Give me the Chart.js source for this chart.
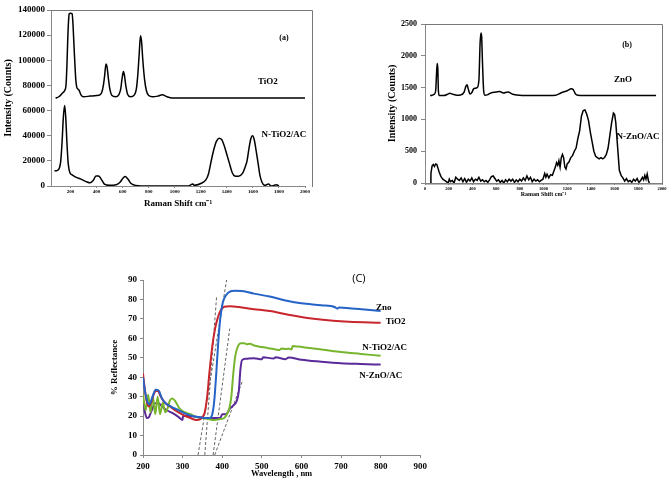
<!DOCTYPE html>
<html>
<head>
<meta charset="utf-8">
<script src="https://cdn.jsdelivr.net/npm/chart.js@4.4.1/dist/chart.umd.min.js"></script>
<style>
  body { margin: 0; background: #fff; width: 669px; height: 480px; position: relative; overflow: hidden; }
  canvas { position: absolute; }
</style>
</head>
<body>
<canvas id="chartA" width="330" height="212" style="left:0;top:0"></canvas>
<canvas id="chartB" width="339" height="200" style="left:330px;top:0"></canvas>
<canvas id="chartC" width="330" height="250" style="left:100px;top:230px"></canvas>
<script>
// (a) Raman TiO2 and N-TiO2/AC  [shift, intensity]
const tio2Raman = [[85,70000],[110,71000],[136,73700],[155,76000],[165,80000],[172,95000],[178,115000],[184,130000],[190,137000],[200,137500],[212,137000],[218,130000],[225,115000],[232,100000],[240,85000],[248,78500],[258,77000],[266,76000],[280,72500],[300,71000],[350,71500],[400,72000],[425,72500],[440,74500],[452,80000],[462,88000],[472,97000],[480,95000],[490,86000],[502,77000],[518,72000],[545,71000],[570,72500],[585,77000],[595,85000],[606,91000],[614,88000],[624,80000],[638,73000],[660,71000],[690,72500],[705,77000],[716,88000],[727,105000],[737,119500],[745,115000],[755,100000],[768,85000],[782,76000],[800,72000],[830,71000],[870,71500],[905,72500],[940,71000],[980,70000],[2000,70000]];
const ntio2Raman = [[77,12000],[100,12500],[115,14500],[125,20000],[135,35000],[145,55000],[155,64000],[163,55000],[172,35000],[182,18000],[195,10500],[210,9000],[240,7000],[280,5500],[320,3500],[350,2500],[375,4500],[395,8000],[415,8000],[435,5500],[460,1500],[500,500],[550,1000],[580,3000],[605,6500],[620,7500],[640,5500],[665,2000],[700,500],[800,0],[1100,0],[1140,1500],[1150,500],[1200,2000],[1240,5000],[1260,10000],[1280,20000],[1300,29000],[1320,35500],[1340,38000],[1360,37000],[1380,32000],[1400,25000],[1420,18000],[1440,11000],[1460,8000],[1490,7800],[1520,10000],[1540,15000],[1555,20000],[1570,30000],[1585,38000],[1597,40000],[1610,37000],[1625,28000],[1640,18000],[1655,8000],[1670,3000],[1690,500],[1720,1500],[1740,0],[1780,1000],[1800,0]];
const ticksA = [200,400,600,800,1000,1200,1400,1600,1800,2000];

// (b) Raman ZnO and N-ZnO/AC
const znoRaman = [[43,1375],[60,1380],[80,1400],[90,1450],[97,1700],[103,1880],[108,1800],[113,1450],[120,1375],[160,1375],[190,1395],[210,1410],[235,1395],[270,1380],[300,1385],[330,1430],[345,1520],[355,1545],[365,1480],[380,1400],[395,1420],[410,1480],[425,1490],[440,1500],[455,1620],[465,2200],[472,2360],[478,2300],[485,1900],[495,1450],[505,1380],[530,1390],[560,1420],[600,1430],[630,1440],[660,1415],[700,1430],[740,1395],[800,1380],[900,1375],[1000,1375],[1100,1380],[1150,1420],[1200,1450],[1235,1480],[1250,1470],[1270,1400],[1290,1380],[1400,1375],[1950,1375]];
const nznoRaman = [[43,0],[50,150],[60,270],[70,290],[80,260],[90,300],[100,290],[110,230],[120,170],[135,100],[150,60],[165,40],[180,20],[195,0],[205,60],[215,20],[230,40],[245,0],[260,90],[275,60],[290,40],[305,80],[320,20],[335,70],[350,10],[365,60],[380,30],[395,80],[410,20],[425,60],[440,40],[455,90],[470,30],[485,50],[500,20],[515,40],[530,10],[545,50],[560,100],[575,110],[590,70],[605,30],[620,50],[635,10],[650,40],[665,0],[680,50],[695,20],[710,60],[725,30],[740,60],[755,10],[770,50],[785,20],[800,60],[815,30],[830,80],[845,40],[860,110],[875,50],[890,90],[905,20],[920,60],[935,30],[950,50],[965,20],[980,40],[995,60],[1010,150],[1020,90],[1030,140],[1045,80],[1060,130],[1075,120],[1090,200],[1100,250],[1110,320],[1120,280],[1130,350],[1140,250],[1150,400],[1160,450],[1170,400],[1180,250],[1190,220],[1200,300],[1215,330],[1230,400],[1245,430],[1260,500],[1275,550],[1290,700],[1305,820],[1320,1050],[1335,1140],[1350,1150],[1365,1080],[1380,980],[1395,800],[1410,650],[1425,500],[1440,420],[1455,400],[1470,380],[1485,400],[1500,380],[1515,400],[1530,450],[1545,550],[1560,750],[1575,950],[1590,1100],[1600,1080],[1610,950],[1620,700],[1630,450],[1640,200],[1655,120],[1670,80],[1685,30],[1700,70],[1715,20],[1730,40],[1745,10],[1760,60],[1775,30],[1790,70],[1805,10],[1820,40],[1835,90],[1845,50],[1855,120],[1865,60],[1875,140],[1885,40],[1893,0]];

// (c) reflectance [wavelength nm, %]
const znoRefl = [[200,40],[205,33],[210,28],[216,26],[224,30],[232,33.5],[240,33],[248,29],[258,26.5],[270,25],[290,23],[310,21],[330,19.8],[350,19.2],[365,19],[372,19.5],[376,22],[380,28],[385,42],[390,58],[395,70],[400,77],[405,80.5],[415,83.5],[430,84.5],[450,84.3],[480,83],[520,81.5],[560,79.5],[600,78],[650,77],[685,76],[690,75.3],[695,75.8],[720,75.5],[760,74.8],[800,74]];
const tio2Refl = [[200,42],[205,33],[210,27],[215,25],[222,28],[230,32.5],[237,33],[245,30],[255,27],[268,25],[285,22.5],[300,20.8],[320,19],[335,18],[345,18.5],[350,19.5],[356,22],[362,30],[368,43],[375,56],[382,65],[388,70],[395,74],[405,76.2],[420,76.5],[450,75.8],[480,75],[520,74],[570,72],[620,70.3],[680,69],[720,68.5],[800,68]];
const ntio2Refl = [[200,31],[207,23],[213,31],[219,22],[225,30],[231,21],[237,30],[243,21],[250,27],[256,22],[262,24],[268,28],[274,29],[282,27.5],[292,24],[305,22],[320,21],[335,19.5],[350,19],[365,18.5],[380,18],[395,18.5],[405,19],[412,21],[418,24],[423,30],[428,42],[433,51],[440,56],[447,57.5],[455,57.5],[462,57],[470,57.2],[480,56.3],[500,55.5],[530,54.5],[545,54],[550,54.8],[560,54.5],[570,54.7],[575,54.3],[578,56],[590,55.8],[620,55],[660,54],[700,53],[750,52],[800,51]];
const nznoRefl = [[200,29],[205,22],[210,19],[215,19.5],[222,23],[230,26.5],[238,26.8],[248,25],[260,23],[275,21.5],[290,19.5],[300,18],[301,20],[320,20],[340,19.5],[360,19],[380,19],[395,19],[400,21],[410,21],[418,23.5],[428,25.5],[436,27.5],[442,33],[446,44],[450,48.8],[460,49.5],[480,49.8],[500,49.2],[503,50.3],[530,49.6],[535,50.3],[560,49.3],[568,50.2],[600,49],[650,48],[700,47.2],[750,46.8],[800,46.5]];
const tangentLines = [
  [[339,0],[414,93.6]],
  [[356,0],[386,82]],
  [[377,0],[419,65]],
  [[381,0],[452,38.6]]
];

const serif = '"Liberation Serif", "Times New Roman", serif';

function pts(arr) {
  return arr.map(p => ({ x: p[0], y: p[1] }));
}

// draws free text at data coordinates
const textLabels = {
  id: 'textLabels',
  afterDraw(chart, args, opts) {
    const ctx = chart.ctx;
    const x = chart.scales.x, y = chart.scales.y;
    ctx.save();
    (opts.items || []).forEach(it => {
      ctx.font = it.font;
      ctx.fillStyle = '#000';
      ctx.textAlign = 'center';
      ctx.textBaseline = 'middle';
      ctx.fillText(it.text, x.getPixelForValue(it.x), y.getPixelForValue(it.y));
    });
    ctx.restore();
  }
};

const frame = {
  id: 'frame',
  afterDraw(chart, args, opts) {
    if (!opts.show) return;
    const ctx = chart.ctx;
    const a = chart.chartArea;
    const r = a.right + (opts.extend || 0);
    ctx.save();
    ctx.strokeStyle = '#777';
    ctx.lineWidth = 1;
    ctx.beginPath();
    ctx.moveTo(a.left, a.top + 0.5);
    ctx.lineTo(r + 0.5, a.top + 0.5);
    ctx.lineTo(r + 0.5, a.bottom + 1);
    if (opts.closed) ctx.lineTo(a.left, a.bottom + 1);
    ctx.stroke();
    ctx.restore();
  }
};

Chart.register(textLabels, frame);
Chart.defaults.animation = false;
Chart.defaults.font.family = serif;
Chart.defaults.color = '#000';

const plain = v => String(v);

function blackLine(data) {
  return { data: pts(data), borderColor: '#000', borderWidth: 1.5, pointRadius: 0, cubicInterpolationMode: 'monotone' };
}

function fixed(size, horizontal) {
  return function (s) { if (horizontal) s.height = size; else s.width = size; };
}

// chart (a)
new Chart(document.getElementById('chartA'), {
  type: 'line',
  data: { datasets: [blackLine(tio2Raman), blackLine(ntio2Raman)] },
  options: {
    responsive: false,
    layout: { padding: { left: 0, top: 10, right: 25, bottom: 0 } },
    plugins: {
      legend: { display: false }, tooltip: { enabled: false },
      frame: { show: true, extend: 7 },
      textLabels: { items: [
        { text: '(a)', x: 1838, y: 117700, font: 'bold 8px ' + serif },
        { text: 'TiO2', x: 1715, y: 82700, font: 'bold 9px ' + serif },
        { text: 'N-TiO2/AC', x: 1838, y: 40600, font: 'bold 9px ' + serif }
      ] }
    },
    scales: {
      x: {
        type: 'linear', min: 50, max: 2000,
        afterBuildTicks: s => { s.ticks = ticksA.map(v => ({ value: v })); },
        afterFit: fixed(26, true),
        ticks: { callback: plain, font: { size: 5, weight: 'bold' }, padding: 1, maxRotation: 0, autoSkip: false },
        grid: { display: true, drawOnChartArea: false, tickLength: 2, color: '#888' },
        border: { color: '#888' },
        title: { display: true, text: 'Raman Shift cm⁻¹', font: { size: 9, weight: 'bold' }, padding: { top: 0, bottom: 3 } }
      },
      y: {
        min: 0, max: 140000,
        afterFit: fixed(51, false),
        ticks: { callback: plain, stepSize: 20000, font: { size: 9, weight: 'bold' }, padding: 2 },
        grid: { display: true, drawOnChartArea: false, tickLength: 4, color: '#888' },
        border: { color: '#888' },
        title: { display: true, text: 'Intensity (Counts)', font: { size: 10, weight: 'bold' }, padding: { top: 2, bottom: 0 } }
      }
    }
  }
});

// chart (b)
new Chart(document.getElementById('chartB'), {
  type: 'line',
  data: { datasets: [blackLine(znoRaman), Object.assign(blackLine(nznoRaman), { cubicInterpolationMode: 'default', tension: 0 })] },
  options: {
    responsive: false,
    layout: { padding: { left: 55, top: 24, right: 7, bottom: 0 } },
    plugins: {
      legend: { display: false }, tooltip: { enabled: false },
      frame: { show: true, closed: true },
      textLabels: { items: [
        { text: '(b)', x: 1705, y: 2170, font: 'bold 8px ' + serif },
        { text: 'ZnO', x: 1671, y: 1620, font: 'bold 9px ' + serif },
        { text: 'N-ZnO/AC', x: 1797, y: 723, font: 'bold 9px ' + serif }
      ] }
    },
    scales: {
      x: {
        type: 'linear', min: 0, max: 2000,
        afterFit: fixed(17, true),
        ticks: { callback: plain, stepSize: 200, font: { size: 4.5, weight: 'bold' }, padding: 1, maxRotation: 0, autoSkip: false },
        grid: { display: true, drawOnChartArea: false, tickLength: 2, color: '#888' },
        border: { color: '#888' },
        title: { display: true, text: 'Raman Shift cm⁻¹', font: { size: 6, weight: 'bold' }, padding: { top: 0, bottom: 2 } }
      },
      y: {
        min: 0, max: 2500,
        afterFit: fixed(40, false),
        ticks: { callback: plain, stepSize: 500, font: { size: 8, weight: 'bold' }, padding: 4 },
        grid: { display: true, drawOnChartArea: false, tickLength: 4, color: '#888' },
        border: { color: '#888' },
        title: { display: true, text: 'Intensity (Counts)', font: { size: 10, weight: 'bold' }, padding: { top: 1, bottom: 0 } }
      }
    }
  }
});

// chart (c)
const reflSeries = [
  { data: znoRefl, color: '#2563c6' },
  { data: tio2Refl, color: '#c8262c' },
  { data: ntio2Refl, color: '#78b52f' },
  { data: nznoRefl, color: '#5a2a9a' }
];
const datasetsC = reflSeries.map(s => ({
  data: pts(s.data), borderColor: s.color, borderWidth: 2, pointRadius: 0, cubicInterpolationMode: 'monotone'
}));
tangentLines.forEach(l => datasetsC.push({
  data: pts(l), borderColor: '#666', borderWidth: 1, borderDash: [3, 2], pointRadius: 0
}));

new Chart(document.getElementById('chartC'), {
  type: 'line',
  data: { datasets: datasetsC },
  options: {
    responsive: false,
    layout: { padding: { left: 6, top: 50, right: 8, bottom: 0 } },
    plugins: {
      legend: { display: false }, tooltip: { enabled: false },
      textLabels: { items: [
        { text: '(C)', x: 745, y: 90.5, font: '11px "Open Sans", sans-serif' },
        { text: 'Zno', x: 808, y: 75.6, font: 'bold 9px ' + serif },
        { text: 'TiO2', x: 838, y: 68.4, font: 'bold 9px ' + serif },
        { text: 'N-TiO2/AC', x: 810, y: 55, font: 'bold 9px ' + serif },
        { text: 'N-ZnO/AC', x: 800, y: 40.6, font: 'bold 9px ' + serif }
      ] }
    },
    scales: {
      x: {
        type: 'linear', min: 200, max: 900,
        afterFit: fixed(25, true),
        ticks: { callback: plain, stepSize: 100, font: { size: 9, weight: 'bold' }, padding: 3, maxRotation: 0, autoSkip: false },
        grid: { display: true, drawOnChartArea: false, tickLength: 3, color: '#888' },
        border: { color: '#888' },
        title: { display: true, text: 'Wavelength , nm', font: { size: 8.5, weight: 'bold' }, padding: { top: 0, bottom: 1 } }
      },
      y: {
        min: 0, max: 90,
        afterFit: fixed(37, false),
        ticks: { callback: plain, stepSize: 10, font: { size: 9, weight: 'bold' }, padding: 3 },
        grid: { display: true, drawOnChartArea: false, tickLength: 3, color: '#888' },
        border: { color: '#888' },
        title: { display: true, text: '% Reflectance', font: { size: 9, weight: 'bold' }, padding: { top: 3, bottom: 0 } }
      }
    }
  }
});
</script>
</body>
</html>
